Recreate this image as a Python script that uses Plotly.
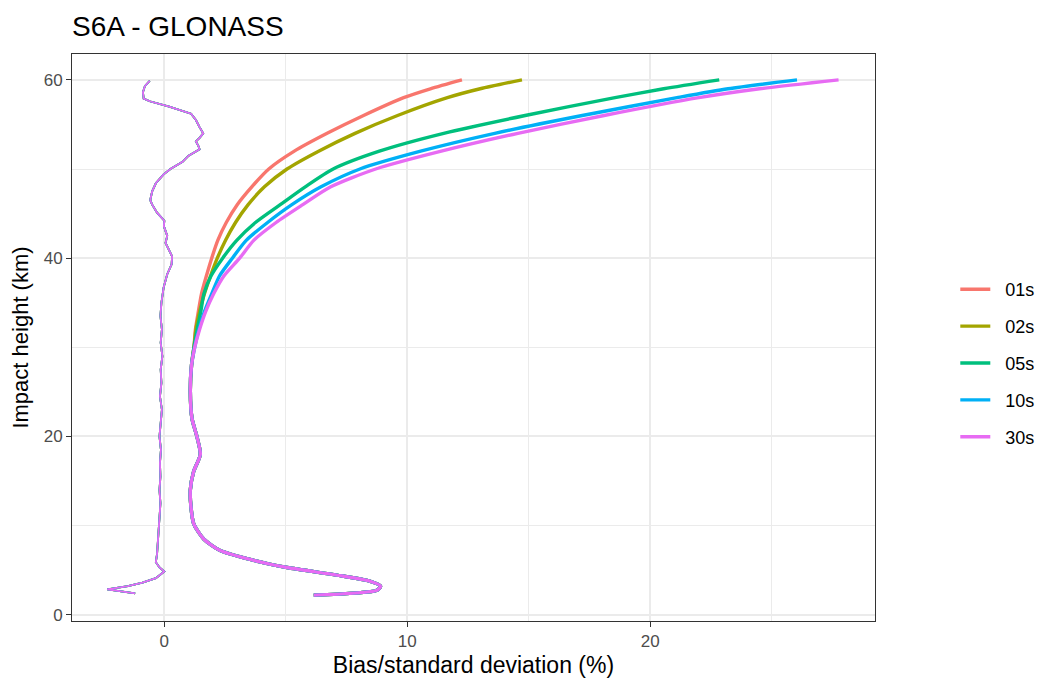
import plotly.graph_objects as go

# ---------------- data ----------------
series_names = ["01s", "02s", "05s", "10s", "30s"]
series_colors = ["#F8766D", "#A3A500", "#00BF7D", "#00B0F6", "#E76BF3"]

# impact heights (km) for standard-deviation profiles
std_height = [2.2, 2.75, 3.2, 3.75, 4.45, 5.3, 6.1, 7.2, 8.5, 10.2, 12, 14, 16, 18, 20, 22, 25, 28, 30,
              32, 34, 36, 38, 40, 42, 44, 46, 48, 50, 52, 54, 56, 58, 59, 60]

std_01s = [6.15, 8.75, 8.9, 8.48, 7.1, 5.05, 3.68, 2.3, 1.62, 1.21, 1.1, 1.07, 1.2, 1.48, 1.34, 1.14, 1.07, 1.12, 1.22,
           1.28, 1.4, 1.53, 1.73, 1.95, 2.2, 2.55, 3.0, 3.6, 4.3, 5.35, 6.7, 8.2, 9.85, 10.95, 12.25]
std_02s = [6.15, 8.75, 8.9, 8.48, 7.1, 5.05, 3.68, 2.3, 1.62, 1.21, 1.1, 1.07, 1.2, 1.48, 1.34, 1.14, 1.07, 1.12, 1.22,
           1.3, 1.45, 1.65, 1.9, 2.18, 2.52, 2.93, 3.45, 4.12, 5.05, 6.35, 7.85, 9.6, 11.65, 13.0, 14.72]
std_05s = [6.15, 8.75, 8.9, 8.48, 7.1, 5.05, 3.68, 2.3, 1.62, 1.21, 1.1, 1.07, 1.2, 1.48, 1.34, 1.14, 1.07, 1.12, 1.22,
           1.35, 1.5, 1.63, 1.92, 2.4, 2.98, 3.75, 4.77, 5.8, 6.95, 8.85, 11.5, 14.85, 18.55, 20.55, 22.84]
std_10s = [6.15, 8.75, 8.9, 8.48, 7.1, 5.05, 3.68, 2.3, 1.62, 1.21, 1.1, 1.07, 1.2, 1.48, 1.34, 1.14, 1.07, 1.12, 1.25,
           1.42, 1.65, 1.95, 2.27, 2.8, 3.37, 4.25, 5.25, 6.45, 8.05, 10.55, 13.6, 17.2, 21.1, 23.2, 26.04]
std_30s = [6.15, 8.75, 8.9, 8.48, 7.1, 5.05, 3.68, 2.3, 1.62, 1.21, 1.1, 1.07, 1.2, 1.48, 1.34, 1.14, 1.07, 1.12, 1.25,
           1.45, 1.7, 2.03, 2.45, 3.1, 3.68, 4.6, 5.7, 6.85, 8.7, 11.4, 14.55, 18.1, 22.0, 24.5, 27.75]

# impact heights (km) for bias profiles (shared by all series, they overlap)
bias_height = [59.9, 59.3, 58.6, 57.9, 57.6, 57.0, 56.2, 55.5, 54.7, 54.0, 53.5, 53.1, 52.6, 52.2, 51.5, 50.8,
               50.0, 49.4, 48.4, 47.5, 46.5, 46.0, 45.1, 44.2, 43.6, 43.0, 42.5, 41.7, 40.9, 40.2, 39.3, 38.2,
               36.7, 35.0, 33.5, 32.0, 30.5, 29.0, 27.5, 26.0, 24.5, 23.0, 21.5, 20.0, 18.5, 17.0, 15.5, 14.0,
               12.5, 11.0, 9.5, 8.0, 6.8, 5.9, 5.3, 4.85, 4.5, 4.1, 3.6, 3.2, 2.85, 2.65, 2.4]
bias_all = [-0.6, -0.8, -0.88, -0.85, -0.6, 0.2, 1.1, 1.3, 1.45, 1.6, 1.45, 1.3, 1.4, 1.45, 1.0, 0.75,
            0.25, -0.03, -0.35, -0.5, -0.58, -0.5, -0.3, 0.0, -0.02, 0.05, 0.12, 0.05, 0.2, 0.32, 0.3, 0.12,
            -0.03, -0.12, -0.16, -0.1, -0.15, -0.08, -0.15, -0.12, -0.18, -0.1, -0.15, -0.2, -0.14, -0.18, -0.16, -0.2,
            -0.16, -0.2, -0.22, -0.25, -0.3, -0.35, -0.2, 0.0, -0.15, -0.35, -0.9, -1.5, -2.35, -1.8, -1.2]

std_values = [std_01s, std_02s, std_05s, std_10s, std_30s]

x_ticks = [0, 10, 20]
y_ticks = [0, 20, 40, 60]

# ---------------- figure ----------------
FONT = "Liberation Sans, Arial, Helvetica, sans-serif"
NB = "\u00a0\u00a0"
fig = go.Figure()

for name, col in zip(series_names, series_colors):
    fig.add_trace(go.Scatter(x=bias_all, y=bias_height, mode="lines", name=name,
                             legendgroup=name, showlegend=False,
                             line=dict(color=col, width=1.8), hoverinfo="skip"))
for name, col, sv in zip(series_names, series_colors, std_values):
    fig.add_trace(go.Scatter(x=sv, y=std_height, mode="lines", name=NB + name,
                             legendgroup=name, showlegend=True,
                             line=dict(color=col, width=3.4, shape="spline", smoothing=0.7)))

fig.update_layout(
    width=1042, height=678,
    margin=dict(l=72, r=167, t=54, b=57, autoexpand=False),
    paper_bgcolor="white", plot_bgcolor="white",
    font=dict(family=FONT, color="#1A1A1A"),
    title=dict(text="S6A - GLONASS", x=72 / 1042, xanchor="left", xref="container",
               y=1 - 26 / 678, yanchor="middle", yref="container",
               font=dict(size=28, color="black", family=FONT)),
    showlegend=True,
    legend=dict(x=1.1, xanchor="left", y=0.455, yanchor="middle",
                font=dict(size=18, color="black", family=FONT),
                tracegroupgap=10.5, bgcolor="rgba(0,0,0,0)", borderwidth=0),
)

fig.update_xaxes(range=[-3.8, 29.25], tickmode="array", tickvals=x_ticks,
                 ticktext=[str(v) for v in x_ticks],
                 showgrid=True, gridcolor="#EBEBEB", gridwidth=1.6,
                 minor=dict(tickmode="array", tickvals=[5, 15, 25], showgrid=True,
                            gridcolor="#EBEBEB", gridwidth=1.0, ticks=""),
                 zeroline=False, showline=True, mirror=True, linecolor="#333333", linewidth=1,
                 ticks="outside", ticklen=5, tickcolor="#333333", tickwidth=1,
                 tickfont=dict(size=17, color="#4D4D4D", family=FONT),
                 title=dict(text="Bias/standard deviation (%)", standoff=6,
                            font=dict(size=23, color="black", family=FONT)))
fig.update_yaxes(range=[-0.7, 62.9], tickmode="array", tickvals=y_ticks,
                 ticktext=[str(v) for v in y_ticks],
                 showgrid=True, gridcolor="#EBEBEB", gridwidth=1.6,
                 minor=dict(tickmode="array", tickvals=[10, 30, 50], showgrid=True,
                            gridcolor="#EBEBEB", gridwidth=1.0, ticks=""),
                 zeroline=False, showline=True, mirror=True, linecolor="#333333", linewidth=1,
                 ticks="outside", ticklen=5, tickcolor="#333333", tickwidth=1,
                 tickfont=dict(size=17, color="#4D4D4D", family=FONT),
                 title=dict(text="Impact height (km)", standoff=8,
                            font=dict(size=22, color="black", family=FONT)))

fig.write_html("out.html")
